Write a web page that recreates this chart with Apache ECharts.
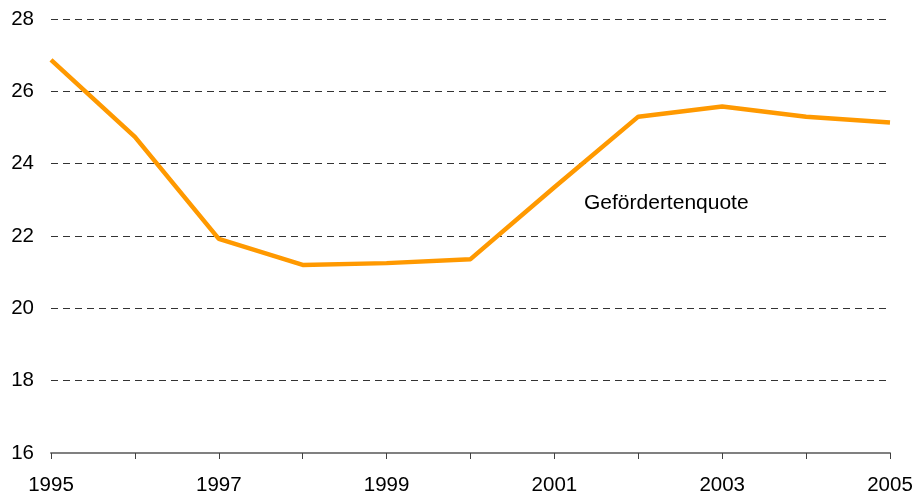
<!DOCTYPE html>
<html>
<head>
<meta charset="utf-8">
<script src="https://cdn.jsdelivr.net/npm/echarts@6/dist/echarts.min.js"></script>
<style>html,body{margin:0;padding:0;background:#fff;}#c{width:916px;height:498px;}</style>
</head>
<body>
<div id="c"></div>
<script>
const years = ['1995','1996','1997','1998','1999','2000','2001','2002','2003','2004','2005'];
const gefoerdertenquote = [26.87, 24.74, 21.92, 21.2, 21.25, 21.36, 23.35, 25.3, 25.58, 25.3, 25.14];
const seriesName = 'Gefördertenquote';

const chart = echarts.init(document.getElementById('c'));
chart.setOption({
  animation: false,
  backgroundColor: '#ffffff',
  textStyle: { fontFamily: 'Liberation Sans, Arial, sans-serif' },
  grid: { left: 51, right: 26, top: 19, bottom: 45, containLabel: false },
  xAxis: {
    type: 'category',
    data: years,
    boundaryGap: false,
    axisLine: { show: true, lineStyle: { color: '#808080', width: 2 } },
    axisTick: { show: true, interval: 0, length: 6, lineStyle: { color: '#404040', width: 1 } },
    axisLabel: { interval: 1, color: '#000', fontSize: 20.5, margin: 22 },
    splitLine: { show: false }
  },
  yAxis: {
    type: 'value',
    min: 16, max: 28, interval: 2,
    axisLine: { show: false },
    axisTick: { show: false },
    axisLabel: { color: '#000', fontSize: 20.5, margin: 17 },
    splitLine: { show: true, lineStyle: { color: '#333', width: 1, type: [7, 5] } }
  },
  series: [{
    name: seriesName,
    type: 'line',
    data: gefoerdertenquote,
    symbol: 'none',
    lineStyle: { color: '#FF9900', width: 4.5 },
    z: 5
  }],
  graphic: [{
    type: 'text',
    left: 584,
    top: 193,
    style: { text: seriesName, fill: '#000', fontSize: 21, fontFamily: 'Liberation Sans, Arial, sans-serif' }
  }]
});
</script>
</body>
</html>
